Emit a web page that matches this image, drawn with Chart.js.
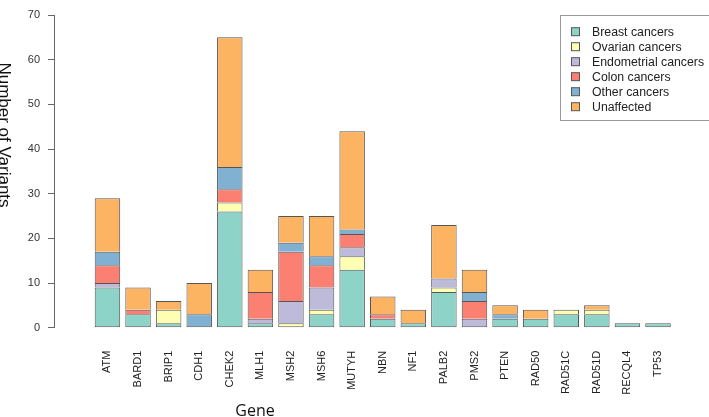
<!DOCTYPE html>
<html>
<head>
<meta charset="utf-8">
<script src="https://cdn.jsdelivr.net/npm/chart.js"></script>
<style>
  body { margin: 0; background: #fff; }
  canvas { display: block; }
</style>
</head>
<body>
<canvas id="chart" width="709" height="417"></canvas>
<script>
// genes on the x axis
const genes = ['ATM', 'BARD1', 'BRIP1', 'CDH1', 'CHEK2', 'MLH1', 'MSH2', 'MSH6', 'MUTYH', 'NBN',
               'NF1', 'PALB2', 'PMS2', 'PTEN', 'RAD50', 'RAD51C', 'RAD51D', 'RECQL4', 'TP53'];

// variant counts per group, bottom to top of each stack
const breast      = [9, 3, 1, 0, 26, 1, 0, 3, 13, 2, 1, 8, 0, 2, 2, 3, 3, 1, 1];
const ovarian     = [0, 0, 3, 0, 2, 0, 1, 1, 3, 0, 0, 1, 0, 0, 0, 1, 1, 0, 0];
const endometrial = [1, 0, 0, 0, 0, 1, 5, 5, 2, 0, 0, 2, 2, 0, 0, 0, 0, 0, 0];
const colon       = [4, 1, 0, 0, 3, 6, 11, 5, 3, 1, 0, 0, 4, 0, 0, 0, 0, 0, 0];
const other       = [3, 0, 0, 3, 5, 0, 2, 2, 1, 0, 0, 0, 2, 1, 0, 0, 0, 0, 0];
const unaffected  = [12, 5, 2, 7, 29, 5, 6, 9, 22, 4, 3, 12, 5, 2, 2, 0, 1, 0, 0];

const groupNames = ['Breast cancers', 'Ovarian cancers', 'Endometrial cancers', 'Colon cancers', 'Other cancers', 'Unaffected'];
const groupValues = [breast, ovarian, endometrial, colon, other, unaffected];
const groupColors = ['#8DD3C7', '#FFFFB3', '#BEBADA', '#FB8072', '#80B1D3', '#FDB462'];

const yTicks = [0, 10, 20, 30, 40, 50, 60, 70];

// lowest non-empty segment of a stack also gets its bottom edge
function isLowest(k, i) {
  for (let j = 0; j < k; j++) {
    if (groupValues[j][i] > 0) return false;
  }
  return true;
}

const datasets = groupNames.map((name, k) => ({
  label: name,
  data: groupValues[k].map((v, i) => ({ x: i, y: v })),
  backgroundColor: groupColors[k],
  borderColor: '#555',
  borderSkipped: false,
  borderWidth: (c) => ({ top: 1, left: 1, right: 1, bottom: isLowest(k, c.dataIndex) ? 1 : 0 }),
  categoryPercentage: 1,
  barPercentage: 0.833
}));

// axis titles and the boxed legend, drawn over the chart
const extras = {
  id: 'extras',
  afterDraw(chart) {
    const ctx = chart.ctx;
    ctx.save();

    // y title, reading top to bottom like the original
    ctx.fillStyle = '#111';
    ctx.font = '17px "Liberation Sans", Arial, sans-serif';
    ctx.textAlign = 'center';
    ctx.textBaseline = 'alphabetic';
    ctx.save();
    ctx.translate(-1, 135);
    ctx.rotate(Math.PI / 2);
    ctx.fillText('Number of Variants', 0, 0);
    ctx.restore();

    // x title
    ctx.font = '16px "Open Sans", sans-serif';
    ctx.fillText('Gene', 255, 416);

    // legend
    ctx.fillStyle = '#fff';
    ctx.fillRect(560.5, 15.5, 160, 105);
    ctx.strokeStyle = '#999';
    ctx.lineWidth = 1;
    ctx.strokeRect(560.5, 15.5, 160, 105);
    ctx.font = '12.3px "Liberation Sans", Arial, sans-serif';
    ctx.textAlign = 'left';
    ctx.textBaseline = 'middle';
    groupNames.forEach((name, k) => {
      const y = 31.7 + k * 15;
      ctx.fillStyle = groupColors[k];
      ctx.fillRect(571.5, y - 4, 8, 8);
      ctx.strokeStyle = '#555';
      ctx.strokeRect(571.5, y - 4, 8, 8);
      ctx.fillStyle = '#222';
      ctx.fillText(name, 592, y + 0.5);
    });

    ctx.restore();
  }
};

new Chart(document.getElementById('chart'), {
  type: 'bar',
  data: { datasets: datasets },
  options: {
    responsive: false,
    animation: false,
    devicePixelRatio: 1,
    layout: { padding: { top: 15, right: 6, left: 0, bottom: 0 } },
    plugins: {
      legend: { display: false },
      tooltip: { enabled: false }
    },
    scales: {
      x: {
        type: 'linear',
        stacked: true,
        min: -1.217,
        max: 18.94,
        grid: { display: false },
        border: { display: false },
        ticks: {
          stepSize: 1,
          autoSkip: false,
          includeBounds: false,
          minRotation: 90,
          maxRotation: 90,
          padding: 15,
          color: '#222',
          font: { family: '"Liberation Sans", Arial, sans-serif', size: 11 },
          callback: (v) => genes[v] !== undefined ? genes[v] : ''
        },
        afterFit: (s) => { s.height = 89.3; }
      },
      y: {
        stacked: true,
        min: yTicks[0],
        max: yTicks[yTicks.length - 1],
        afterBuildTicks: (s) => { s.ticks = yTicks.map(v => ({ value: v })); },
        grid: { drawOnChartArea: false, drawTicks: true, tickLength: 6, color: '#666' },
        border: { color: '#666', width: 1 },
        ticks: {
          padding: 8,
          color: '#333',
          font: { family: '"Liberation Sans", Arial, sans-serif', size: 11 }
        },
        afterFit: (s) => { s.width = 54; }
      }
    }
  },
  plugins: [extras]
});
</script>
</body>
</html>
